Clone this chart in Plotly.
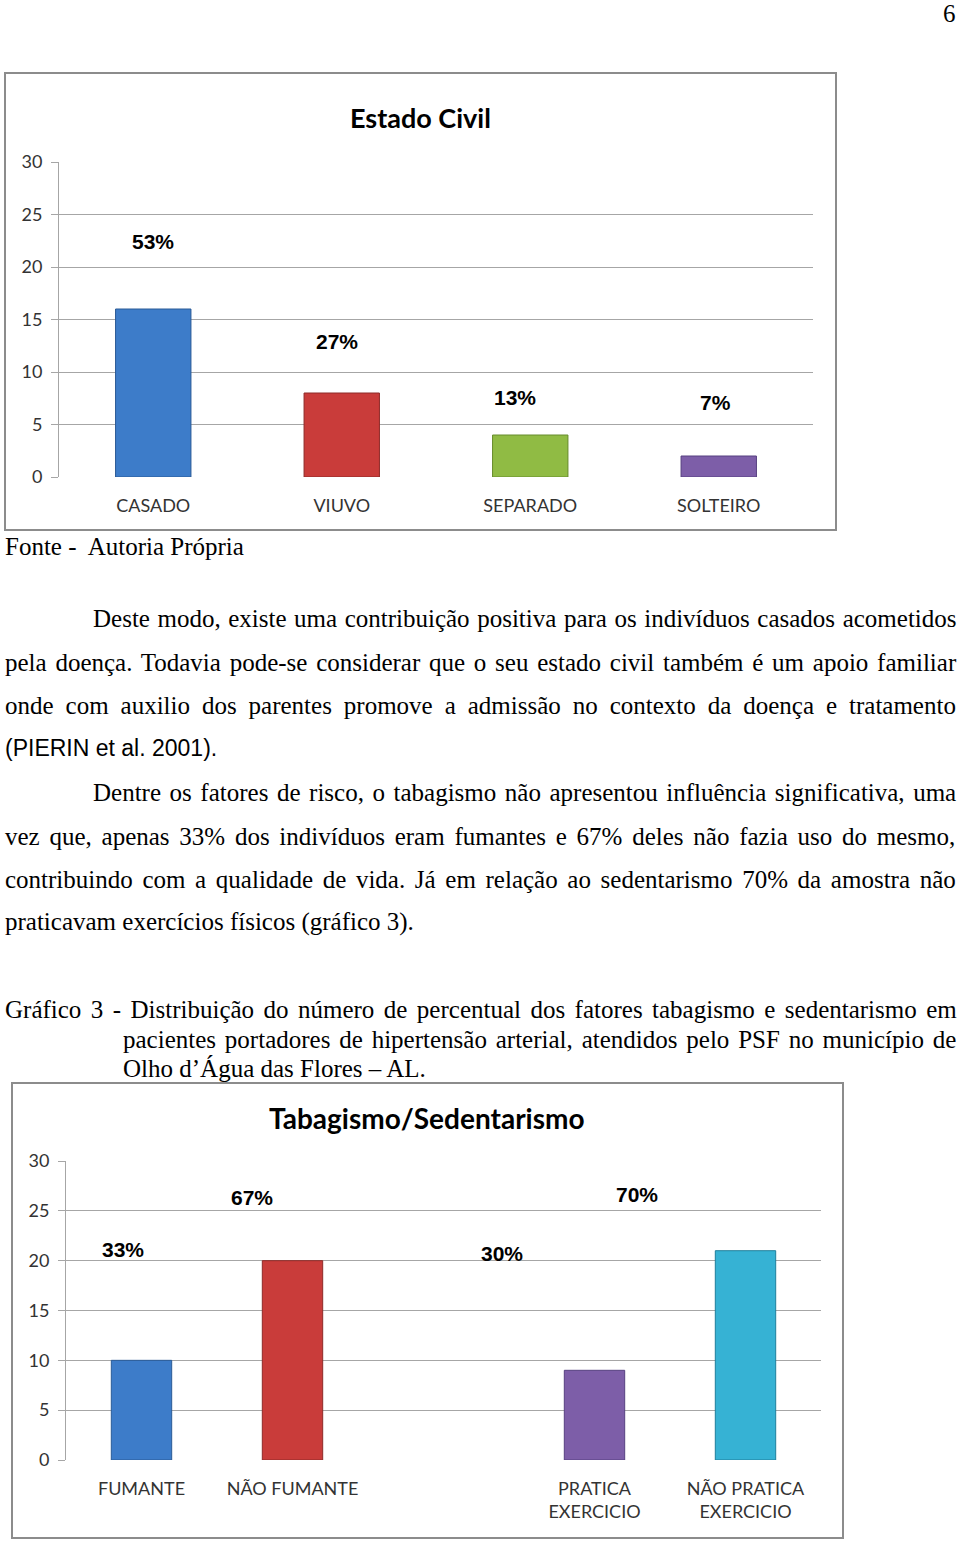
import plotly.graph_objects as go

W, H = 960, 1541

# ---------- data ----------
civil_categories = ["CASADO", "VIUVO", "SEPARADO", "SOLTEIRO"]
civil_values = [16, 8, 4, 2]
civil_colors = ["#3d7cc9", "#c93c3a", "#90bb44", "#7d5ea8"]
civil_lines = ["#2a5a96", "#8e2a28", "#678c2c", "#574080"]

tab_categories = ["FUMANTE", "NÃO FUMANTE", "", "PRATICA<br>EXERCICIO", "NÃO PRATICA<br>EXERCICIO"]
tab_values = [10, 20, None, 9, 21]
tab_colors = ["#3d7cc9", "#c93c3a", "#ffffff", "#7d5ea8", "#36b2d4"]
tab_lines = ["#2a5a96", "#8e2a28", "#ffffff", "#574080", "#1f7f9c"]

y_ticks = [0, 5, 10, 15, 20, 25, 30]

# label placement (style only): x in category units, y in axis units
civil_label_pos = [(0.0, 22.4), (0.975, 12.9), (1.92, 7.6), (2.985, 7.1)]
tab_label_pos = [(-0.12, 21.1), (0.73, 26.3), None, (2.39, 20.7), (3.28, 26.6)]


def px_x(x):
    return x / W


def px_y(y):
    return 1 - y / H


fig = go.Figure()

civil_x = list(range(len(civil_categories)))
fig.add_trace(go.Bar(
    x=civil_x, y=civil_values, xaxis="x", yaxis="y",
    marker=dict(color=civil_colors, line=dict(color=civil_lines, width=1)),
    width=0.4, showlegend=False, hoverinfo="skip",
))

tab_x = list(range(len(tab_categories)))
tab_xb = [x for x, v in zip(tab_x, tab_values) if v is not None]
tab_vb = [v for v in tab_values if v is not None]
tab_cb = [c for c, v in zip(tab_colors, tab_values) if v is not None]
tab_lb = [c for c, v in zip(tab_lines, tab_values) if v is not None]
fig.add_trace(go.Bar(
    x=tab_xb, y=tab_vb, xaxis="x2", yaxis="y2",
    marker=dict(color=tab_cb, line=dict(color=tab_lb, width=1)),
    width=0.4, showlegend=False, hoverinfo="skip",
))

tick_font = dict(family="Lato, Open Sans, sans-serif", size=18, color="#333333")
xtick_font = dict(family="Lato, Open Sans, sans-serif", size=18, color="#333333",
                  lineposition="none")
grid_color = "#a6a6a6"

common_y = dict(range=[0, 30], tickvals=y_ticks, showgrid=True, gridcolor=grid_color,
                gridwidth=1, showline=True, linecolor=grid_color, linewidth=1,
                ticks="outside", ticklen=7, tickcolor=grid_color, tickfont=tick_font,
                zeroline=False, fixedrange=True, ticklabelstandoff=5, automargin=False)

fig.update_layout(
    width=W, height=H,
    margin=dict(l=0, r=0, t=0, b=0, pad=0, autoexpand=False),
    paper_bgcolor="white", plot_bgcolor="white",
    xaxis=dict(domain=[px_x(59), px_x(813)], range=[-0.5, 3.5], tickvals=civil_x,
               ticktext=civil_categories, showgrid=False, zeroline=False, showline=False,
               ticks="", tickfont=tick_font, anchor="y", ticklabelstandoff=16,
               automargin=False),
    yaxis=dict(domain=[px_y(477), px_y(162)], anchor="x", **common_y),
    xaxis2=dict(domain=[px_x(66), px_x(821)], range=[-0.5, 4.5], tickvals=tab_x,
                ticktext=[c.replace("<br>", "<br> <br>") if False else c for c in tab_categories],
                showgrid=False, zeroline=False, showline=False,
                ticks="", tickfont=tick_font, anchor="y2", ticklabelstandoff=16,
                automargin=False),
    yaxis2=dict(domain=[px_y(1460), px_y(1161)], anchor="x2", **common_y),
)

# chart frames
for (x0, y0, x1, y1) in [(5, 73, 836, 530), (12, 1083, 843, 1538)]:
    fig.add_shape(type="rect", xref="paper", yref="paper",
                  x0=px_x(x0), x1=px_x(x1), y0=px_y(y1), y1=px_y(y0),
                  line=dict(color="#8c8c8c", width=2), fillcolor="rgba(0,0,0,0)", layer="below")

title_font = dict(family="Lato, Open Sans, sans-serif", size=27, color="#000000")
fig.add_annotation(text="<b>Estado Civil</b>", xref="paper", yref="paper",
                   x=px_x(420), y=px_y(117), xanchor="center", yanchor="middle",
                   showarrow=False, font=title_font)
fig.add_annotation(text="<b>Tabagismo/Sedentarismo</b>", xref="paper", yref="paper",
                   x=px_x(427), y=px_y(1118), xanchor="center", yanchor="middle",
                   showarrow=False, font=dict(title_font, size=28))

lbl_font = dict(family="Liberation Sans, Arial, sans-serif", size=21, color="#000000")
tot1 = sum(civil_values)
for v, pos in zip(civil_values, civil_label_pos):
    fig.add_annotation(text="<b>%d%%</b>" % round(v / tot1 * 100), xref="x", yref="y",
                       x=pos[0], y=pos[1], xanchor="center", yanchor="middle",
                       showarrow=False, font=lbl_font)
pairs = [(0, 1), (3, 4)]
for a, b in pairs:
    tot = tab_values[a] + tab_values[b]
    for i in (a, b):
        pos = tab_label_pos[i]
        fig.add_annotation(text="<b>%d%%</b>" % round(tab_values[i] / tot * 100),
                           xref="x2", yref="y2", x=pos[0], y=pos[1], xanchor="center",
                           yanchor="middle", showarrow=False, font=lbl_font)

# ---------- page text ----------
serif = dict(family="Liberation Serif, Times New Roman, serif", size=25, color="#000000")
sans_small = dict(family="Liberation Sans, Arial, sans-serif", size=23, color="#000000")

# (x, y, text, font, word-spacing px)
text_lines = [
    (941, 14, "6", serif, 0),
    (3, 546, "Fonte -  Autoria Própria", serif, 0),
    (91, 618, "Deste modo, existe uma contribuição positiva para os indivíduos casados acometidos", serif, 1.3),
    (3, 662, "pela doença. Todavia pode-se considerar que o seu estado civil também é um apoio familiar", serif, 2.5),
    (3, 705, "onde com auxilio dos parentes promove a admissão no contexto da doença e tratamento", serif, 5.7),
    (3, 748, "(PIERIN et al. 2001).", sans_small, 0),
    (91, 792, "Dentre os fatores de risco, o tabagismo não apresentou influência significativa, uma", serif, 2.3),
    (3, 836, "vez que, apenas 33% dos indivíduos eram fumantes e 67% deles não fazia uso do mesmo,", serif, 3.5),
    (3, 879, "contribuindo com a qualidade de vida. Já em relação ao sedentarismo 70% da amostra não", serif, 3.4),
    (3, 922, "praticavam exercícios físicos (gráfico 3).", serif, 0),
    (3, 1010, "Gráfico 3 - Distribuição do número de percentual dos fatores tabagismo e sedentarismo em", serif, 3.2),
    (121, 1039, "pacientes portadores de hipertensão arterial, atendidos pelo PSF no município de", serif, 2.6),
    (121, 1068, "Olho d’Água das Flores – AL.", serif, 0),
]
for x, y, t, f, ws in text_lines:
    txt = t if ws == 0 else '<span style="word-spacing:%.1fpx">%s</span>' % (ws, t)
    fig.add_annotation(text=txt, xref="paper", yref="paper", x=px_x(x), y=px_y(y),
                       xanchor="left", yanchor="middle", showarrow=False, font=f)

fig.write_html("out.html")
